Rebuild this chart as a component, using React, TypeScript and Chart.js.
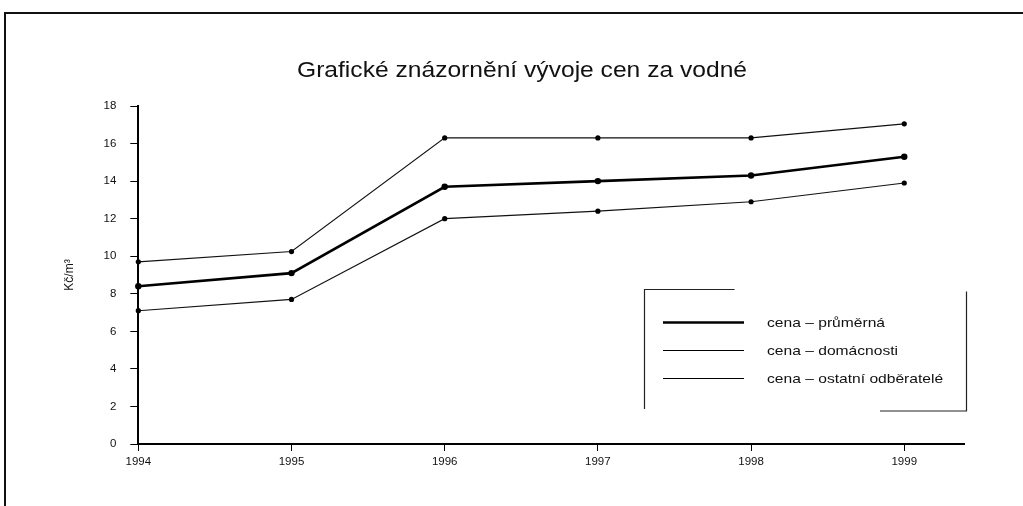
import React, { useEffect, useRef } from "react";
import { Chart, registerables } from "chart.js";

Chart.register(...registerables);

const TITLE = "Grafické znázornění vývoje cen za vodné";
const Y_LABEL = "Kč/m³";
const years = [1994, 1995, 1996, 1997, 1998, 1999];
const prumerna = [8.4, 9.1, 13.7, 14.0, 14.3, 15.3];
const domacnosti = [7.1, 7.7, 12.0, 12.4, 12.9, 13.9];
const ostatni = [9.7, 10.25, 16.3, 16.3, 16.3, 17.05];
const seriesLabels = [
  "cena – průměrná",
  "cena – domácnosti",
  "cena – ostatní odběratelé",
];

const FONT = "'Liberation Sans', Arial, Helvetica, sans-serif";

const framePlugin = {
  id: "frame",
  beforeDraw(chart: any) {
    const ctx = chart.ctx;
    ctx.save();
    ctx.fillStyle = "#ffffff";
    ctx.fillRect(0, 0, chart.width, chart.height);
    ctx.strokeStyle = "#111";
    ctx.lineWidth = 2;
    ctx.beginPath();
    ctx.moveTo(5, chart.height);
    ctx.lineTo(5, 13);
    ctx.lineTo(chart.width, 13);
    ctx.stroke();
    ctx.restore();
  },
};

const titlePlugin = {
  id: "customTitle",
  afterDraw(chart: any) {
    const ctx = chart.ctx;
    ctx.save();
    ctx.font = `22px ${FONT}`;
    ctx.fillStyle = "#111";
    ctx.textBaseline = "middle";
    ctx.textAlign = "center";
    const w = ctx.measureText(TITLE).width;
    const sx = 450 / w;
    ctx.translate(522, 71);
    ctx.scale(sx, 1);
    ctx.fillText(TITLE, 0, 0);
    ctx.restore();
  },
};

const legendPlugin = {
  id: "boxLegend",
  afterDraw(chart: any) {
    const ctx = chart.ctx;
    const left = 644.5;
    const right = 966.5;
    const top = 289.5;
    const bottom = 409;
    ctx.save();
    ctx.strokeStyle = "#222";
    ctx.lineWidth = 1.2;
    ctx.beginPath();
    ctx.moveTo(left, bottom);
    ctx.lineTo(left, top);
    ctx.lineTo(left + 90, top);
    ctx.moveTo(right, top + 2);
    ctx.lineTo(right, bottom + 2);
    ctx.lineTo(880, bottom + 2);
    ctx.stroke();
    const rows = [322.5, 350.5, 378.5];
    ctx.font = `13px ${FONT}`;
    const refW = ctx.measureText(seriesLabels[0]).width;
    const sx = 118 / refW;
    chart.data.datasets.forEach((ds: any, i: number) => {
      const y = rows[i];
      ctx.strokeStyle = "#000";
      ctx.lineWidth = ds.borderWidth;
      ctx.beginPath();
      ctx.moveTo(663, y);
      ctx.lineTo(744, y);
      ctx.stroke();
      ctx.save();
      ctx.font = `13px ${FONT}`;
      ctx.fillStyle = "#111";
      ctx.textBaseline = "middle";
      ctx.textAlign = "left";
      ctx.translate(767, y + 1);
      ctx.scale(sx, 1);
      ctx.fillText(ds.label, 0, 0);
      ctx.restore();
    });
    ctx.restore();
  },
};

function toPoints(values: number[]) {
  return years.map((yr, i) => ({ x: yr, y: values[i] }));
}

export default function App() {
  const ref = useRef<HTMLCanvasElement | null>(null);

  useEffect(() => {
    if (!ref.current) return;
    const chart = new Chart(ref.current, {
      type: "line",
      data: {
        datasets: [
          {
            label: seriesLabels[0],
            data: toPoints(prumerna),
            borderColor: "#000",
            backgroundColor: "#000",
            borderWidth: 2.6,
            pointRadius: 3.2,
            pointBackgroundColor: "#000",
            pointBorderWidth: 0,
            tension: 0,
            clip: false,
          },
          {
            label: seriesLabels[1],
            data: toPoints(domacnosti),
            borderColor: "#111",
            backgroundColor: "#111",
            borderWidth: 1.1,
            pointRadius: 2.6,
            pointBackgroundColor: "#000",
            pointBorderWidth: 0,
            tension: 0,
            clip: false,
          },
          {
            label: seriesLabels[2],
            data: toPoints(ostatni),
            borderColor: "#111",
            backgroundColor: "#111",
            borderWidth: 1.1,
            pointRadius: 2.6,
            pointBackgroundColor: "#000",
            pointBorderWidth: 0,
            tension: 0,
            clip: false,
          },
        ],
      },
      options: {
        responsive: false,
        animation: false,
        layout: { padding: { left: 60, right: 59, top: 106, bottom: 22 } },
        plugins: {
          legend: { display: false },
          title: { display: false },
          tooltip: { enabled: false },
        },
        scales: {
          x: {
            type: "linear",
            min: 1994,
            max: 1999.39,
            afterFit: (s: any) => {
              s.height = 40;
            },
            border: { display: true, color: "#000", width: 2 },
            grid: {
              drawOnChartArea: false,
              drawTicks: true,
              tickLength: 7,
              color: "#000",
              lineWidth: 1,
            },
            ticks: {
              stepSize: 1,
              includeBounds: false,
              padding: 4,
              color: "#111",
              font: { family: FONT, size: 11.5 },
              maxRotation: 0,
              callback: (v: any) => String(v),
            },
          },
          y: {
            min: 0,
            max: 18,
            afterFit: (s: any) => {
              s.width = 78.3;
            },
            border: { display: true, color: "#000", width: 2 },
            grid: {
              drawOnChartArea: false,
              drawTicks: true,
              tickLength: 8,
              color: "#000",
              lineWidth: 1,
            },
            ticks: {
              stepSize: 2,
              padding: 14,
              color: "#111",
              font: { family: FONT, size: 11.5 },
            },
            title: {
              display: true,
              text: Y_LABEL,
              color: "#111",
              font: { family: FONT, size: 12 },
              padding: { top: 2, bottom: 2 },
            },
          },
        },
      } as any,
      plugins: [framePlugin, titlePlugin, legendPlugin],
    });
    return () => chart.destroy();
  }, []);

  return (
    <div
      style={{
        position: "fixed",
        left: 0,
        top: 0,
        width: 1023,
        height: 506,
        background: "#fff",
      }}
    >
      <canvas ref={ref} width={1023} height={506} />
    </div>
  );
}
